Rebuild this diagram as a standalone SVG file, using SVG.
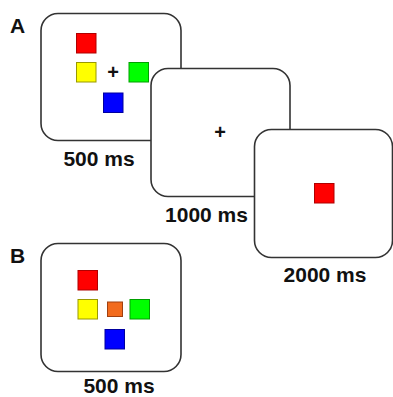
<svg xmlns="http://www.w3.org/2000/svg" width="393" height="397" viewBox="0 0 393 397">
<style>
.scr{fill:#fff;stroke:#333;stroke-width:1.6}
.lbl{font-family:"Liberation Sans",Arial,sans-serif;font-weight:bold;font-size:21px;fill:#111;text-anchor:middle}
.pan{font-family:"Liberation Sans",Arial,sans-serif;font-weight:bold;font-size:21px;fill:#111}
.fix{font-family:"Liberation Sans",Arial,sans-serif;font-weight:bold;font-size:20px;fill:#111;text-anchor:middle}
.r{fill:#ff0000;stroke:#b00000;stroke-width:1}
.y{fill:#ffff00;stroke:#999900;stroke-width:1}
.g{fill:#00ff00;stroke:#00a000;stroke-width:1}
.b{fill:#0000ff;stroke:#0000a0;stroke-width:1}
.o{fill:#f26b1d;stroke:#a04010;stroke-width:1}
</style>
<rect width="393" height="397" fill="#fff"/>
<text class="pan" x="10" y="33">A</text>
<g id="screen1">
<rect class="scr" x="41" y="13.5" width="140" height="127" rx="17"/>
<rect class="r" x="76.5" y="33.5" width="19.5" height="19.5"/>
<rect class="y" x="76.5" y="62.5" width="19.5" height="19.5"/>
<rect class="g" x="129" y="62.5" width="19.5" height="19.5"/>
<rect class="b" x="103.5" y="93" width="19.5" height="19.5"/>
<text class="fix" x="113" y="79">+</text>
<text class="lbl" x="99" y="166">500 ms</text>
</g>
<g id="screen2">
<rect class="scr" x="151" y="68.5" width="139" height="128" rx="17"/>
<text class="fix" x="220" y="139">+</text>
<text class="lbl" x="206.5" y="222">1000 ms</text>
</g>
<g id="screen3">
<rect class="scr" x="254.5" y="129.5" width="138" height="128" rx="17"/>
<rect class="r" x="314.5" y="183.5" width="19.5" height="19.5"/>
<text class="lbl" x="325" y="282">2000 ms</text>
</g>
<text class="pan" x="10" y="263">B</text>
<g id="screenB">
<rect class="scr" x="41" y="243.5" width="140" height="128" rx="17"/>
<rect class="r" x="78" y="270.5" width="19.5" height="19.5"/>
<rect class="y" x="78" y="299.5" width="19.5" height="19.5"/>
<rect class="o" x="107.5" y="302" width="15" height="14.5"/>
<rect class="g" x="130" y="299.5" width="19.5" height="19.5"/>
<rect class="b" x="105" y="329.5" width="19.5" height="19.5"/>
<text class="lbl" x="119" y="392.5">500 ms</text>
</g>
</svg>
